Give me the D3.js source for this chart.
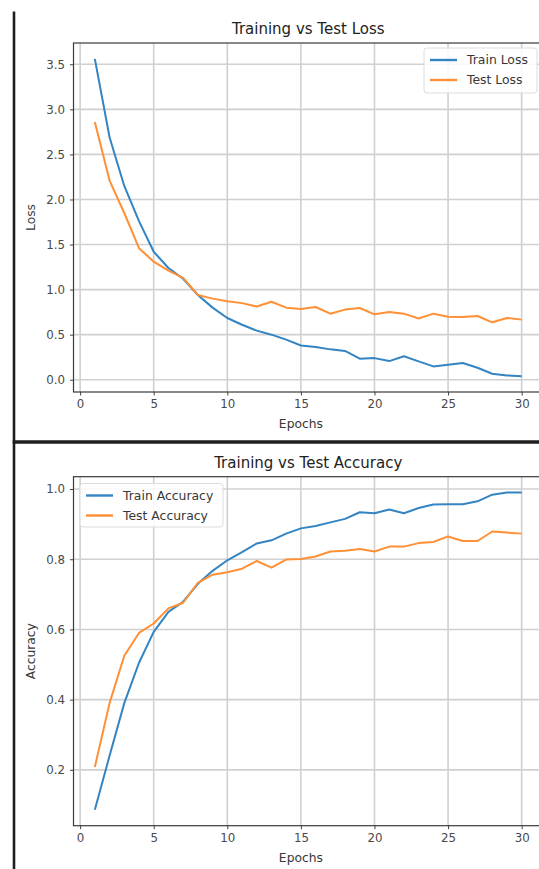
<!DOCTYPE html>
<html>
<head>
<meta charset="utf-8">
<script src="https://cdn.jsdelivr.net/npm/d3@7"></script>
<style>
  html, body { margin: 0; padding: 0; background: #fff; }
  svg { display: block; }
  text { font-family: "DejaVu Sans", sans-serif; }
</style>
</head>
<body>
<svg id="chart" width="539" height="869"></svg>
<script>
// ---- data ----
const epochs = d3.range(1, 31);
const trainLoss = [3.56, 2.69, 2.15, 1.76, 1.42, 1.24, 1.12, 0.94, 0.80, 0.685,
                   0.61, 0.545, 0.50, 0.445, 0.38, 0.363, 0.337, 0.32, 0.233, 0.24,
                   0.207, 0.26, 0.204, 0.148, 0.167, 0.185, 0.133, 0.067, 0.048, 0.04];
const testLoss  = [2.86, 2.21, 1.85, 1.46, 1.31, 1.21, 1.13, 0.94, 0.90, 0.87,
                   0.85, 0.812, 0.865, 0.80, 0.785, 0.807, 0.733, 0.778, 0.796, 0.726,
                   0.752, 0.733, 0.68, 0.733, 0.70, 0.696, 0.707, 0.637, 0.685, 0.667];
const trainAcc  = [0.086, 0.24, 0.39, 0.505, 0.593, 0.65, 0.679, 0.73, 0.767, 0.797,
                   0.82, 0.845, 0.854, 0.873, 0.888, 0.895, 0.905, 0.915, 0.934, 0.931,
                   0.942, 0.931, 0.946, 0.956, 0.957, 0.957, 0.965, 0.984, 0.99, 0.99];
const testAcc   = [0.208, 0.39, 0.525, 0.59, 0.617, 0.66, 0.676, 0.733, 0.756, 0.763,
                   0.773, 0.795, 0.776, 0.799, 0.801, 0.808, 0.822, 0.824, 0.829, 0.822,
                   0.836, 0.836, 0.846, 0.849, 0.865, 0.852, 0.852, 0.879, 0.876, 0.873];
const xTicks = [0, 5, 10, 15, 20, 25, 30];
const lossTicks = [0.0, 0.5, 1.0, 1.5, 2.0, 2.5, 3.0, 3.5];
const accTicks = [0.2, 0.4, 0.6, 0.8, 1.0];
const titles = ["Training vs Test Loss", "Training vs Test Accuracy"];
const yLabels = ["Loss", "Accuracy"];
const xLabel = "Epochs";
const lossNames = ["Train Loss", "Test Loss"];
const accNames = ["Train Accuracy", "Test Accuracy"];

const BLUE = "#3384c3", ORANGE = "#ff9036";
const svg = d3.select("#chart");

// frame lines of the screenshot
svg.append("line").attr("x1", 14).attr("x2", 14).attr("y1", 11.5).attr("y2", 869)
  .attr("stroke", "#1e1e1e").attr("stroke-width", 2.6);
svg.append("line").attr("x1", 12.7).attr("x2", 539).attr("y1", 442).attr("y2", 442)
  .attr("stroke", "#1e1e1e").attr("stroke-width", 3.6);

function padDomain(arrs) {
  const all = arrs.flat();
  const lo = d3.min(all), hi = d3.max(all), r = hi - lo;
  return [lo - 0.05 * r, hi + 0.05 * r];
}

function panel(opt) {
  const g = svg.append("g");
  const x = d3.scaleLinear().domain([1 - 0.05 * 29, 30 + 0.05 * 29]).range([opt.left, opt.right]);
  const y = d3.scaleLinear().domain(padDomain(opt.series)).range([opt.bottom, opt.top]);

  // grid
  g.append("g").selectAll("line").data(xTicks).join("line")
    .attr("x1", d => x(d)).attr("x2", d => x(d)).attr("y1", opt.top).attr("y2", opt.bottom)
    .attr("stroke", "#d0d0d0").attr("stroke-width", 1.6);
  g.append("g").selectAll("line").data(opt.yTicks).join("line")
    .attr("x1", opt.left).attr("x2", opt.right).attr("y1", d => y(d)).attr("y2", d => y(d))
    .attr("stroke", "#d0d0d0").attr("stroke-width", 1.6);

  // axes
  const xAxis = d3.axisBottom(x).tickValues(xTicks).tickSize(3.5).tickPadding(4).tickFormat(d3.format("d"));
  const yAxis = d3.axisLeft(y).tickValues(opt.yTicks).tickSize(3.5).tickPadding(5).tickFormat(d3.format(".1f"));
  const gx = g.append("g").attr("transform", `translate(0,${opt.bottom})`).call(xAxis);
  const gy = g.append("g").attr("transform", `translate(${opt.left},0)`).call(yAxis);
  [gx, gy].forEach(a => {
    a.select(".domain").remove();
    a.selectAll(".tick line").attr("stroke", "#444").attr("stroke-width", 1);
    a.selectAll(".tick text").attr("fill", "#484848").attr("font-size", 11.8)
      .attr("font-family", "DejaVu Sans, sans-serif");
  });
  // spines
  g.append("rect").attr("x", opt.left).attr("y", opt.top)
    .attr("width", opt.right - opt.left).attr("height", opt.bottom - opt.top)
    .attr("fill", "none").attr("stroke", "#3a3a3a").attr("stroke-width", 1.2);

  // lines
  const line = d3.line().x((d, i) => x(epochs[i])).y(d => y(d));
  const colors = [BLUE, ORANGE];
  opt.series.forEach((s, k) => {
    g.append("path").datum(s).attr("d", line).attr("fill", "none")
      .attr("stroke", colors[k]).attr("stroke-width", 2).attr("stroke-linejoin", "round");
  });

  // title and labels
  g.append("text").attr("x", (opt.left + opt.right) / 2).attr("y", opt.top - 9)
    .attr("text-anchor", "middle").attr("font-size", 15).attr("fill", "#222").text(opt.title);
  g.append("text").attr("x", x(15)).attr("y", opt.bottom + 36)
    .attr("text-anchor", "middle").attr("font-size", 12.3).attr("fill", "#383838").text(xLabel);
  g.append("text").attr("transform", `translate(34.5,${(opt.top + opt.bottom) / 2}) rotate(-90)`)
    .attr("text-anchor", "middle").attr("font-size", 12.3).attr("fill", "#383838").text(opt.yLabel);

  // legend
  const L = opt.legend;
  const lg = g.append("g");
  lg.append("rect").attr("x", L.x).attr("y", L.y).attr("width", L.w).attr("height", L.h)
    .attr("rx", 3).attr("fill", "#fff").attr("fill-opacity", 0.85)
    .attr("stroke", "#dcdcdc").attr("stroke-width", 1);
  opt.names.forEach((n, k) => {
    const cy = L.y + 12 + k * 20;
    lg.append("line").attr("x1", L.x + 6).attr("x2", L.x + 33).attr("y1", cy).attr("y2", cy)
      .attr("stroke", colors[k]).attr("stroke-width", 2.4);
    lg.append("text").attr("x", L.x + 43).attr("y", cy).attr("dy", "0.35em")
      .attr("font-size", 12.4).attr("fill", "#383838").text(n);
  });
}

panel({
  left: 73.5, right: 543, top: 43, bottom: 392,
  series: [trainLoss, testLoss], yTicks: lossTicks,
  title: titles[0], yLabel: yLabels[0], names: lossNames,
  legend: { x: 424, y: 48, w: 113, h: 45 }
});
panel({
  left: 73.5, right: 543, top: 476.7, bottom: 825.7,
  series: [trainAcc, testAcc], yTicks: accTicks,
  title: titles[1], yLabel: yLabels[1], names: accNames,
  legend: { x: 80, y: 483.5, w: 143, h: 43.5 }
});
</script>
</body>
</html>
